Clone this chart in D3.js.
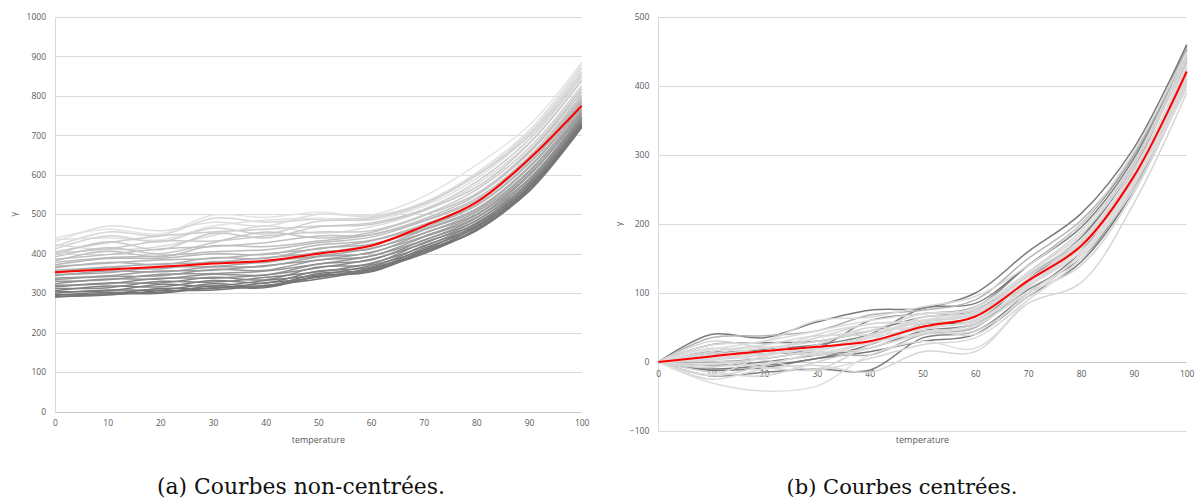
<!DOCTYPE html>
<html><head><meta charset="utf-8">
<script src="https://cdn.jsdelivr.net/npm/d3@7"></script>
<style>body{margin:0;background:#fff}svg{display:block}</style>
</head><body>
<svg id="c" width="1195" height="502"></svg>
<script>
// ---------- data ----------
const temps = [0,10,20,30,40,50,60,70,80,90,100];
const xTickLabels = [0,10,20,30,40,50,60,70,80,90,100];
const leftYTicks = [0,100,200,300,400,500,600,700,800,900,1000];
const rightYTicks = [-100,0,100,200,300,400,500];

// (a) non-centred curves, values at each temperature
const leftCurves = [
  [440,462,450,498,492,505,498,545,625,725,885],
  [430,470,458,480,470,500,495,530,605,712,878],
  [418,455,446,490,480,488,492,528,600,705,870],
  [436,440,435,470,485,490,485,520,590,700,862],
  [412,445,430,465,450,482,488,525,598,698,858],
  [405,428,445,455,462,470,478,512,582,690,850],
  [424,410,418,446,470,452,468,508,575,682,842],
  [398,430,410,452,440,468,474,510,568,678,838],
  [402,412,432,432,445,455,458,498,562,668,826],
  [392,415,400,428,455,440,454,496,552,660,818],
  [386,398,412,418,428,445,448,488,548,655,810],
  [382,406,392,420,418,432,448,484,540,646,802],
  [378,390,394,405,410,428,442,482,535,640,796],
  [372,388,388,400,398,422,434,474,530,636,790],
  [368,376,384,388,400,412,432,470,524,630,786],
  [364,378,372,390,388,414,424,466,522,628,782],
  [358,366,374,378,390,402,422,462,514,620,776],
  [354,364,362,380,378,404,412,460,510,618,772],
  [348,352,366,368,380,394,414,452,506,610,766],
  [344,356,354,366,368,392,402,452,500,606,762],
  [338,344,356,358,370,384,404,444,498,600,758],
  [334,342,344,360,358,384,394,442,492,598,754],
  [330,334,348,350,356,374,394,434,490,590,750],
  [324,336,336,348,346,374,384,434,484,588,746],
  [320,324,338,338,346,364,386,426,484,580,744],
  [316,326,326,340,334,366,374,428,476,582,740],
  [312,314,330,328,340,354,376,418,478,574,738],
  [306,318,316,332,326,356,366,420,470,576,734],
  [304,306,322,318,332,346,370,410,474,568,732],
  [300,308,308,324,318,350,360,414,466,570,728],
  [296,298,312,312,326,340,364,404,468,562,726],
  [294,302,302,318,316,344,356,408,460,566,722],
  [291,295,306,308,320,336,360,400,462,558,720],
  [290,298,300,314,314,342,354,404,458,560,724]
];
const leftMean = [353,360,367,375,382,400,420,470,530,640,775];

// (b) centred curves, and the starting level of the original curve (drives shade)
const rightCurves = [
  [0,40,35,58,75,78,100,160,215,310,460],
  [0,35,38,45,68,75,90,150,205,300,455],
  [0,25,30,60,65,80,95,140,200,305,450],
  [0,-30,-42,-35,10,30,20,90,150,260,395],
  [0,-25,-10,-5,-15,15,15,85,115,230,390],
  [0,-20,-15,-10,-12,35,45,100,160,280,445],
  [0,-10,-5,5,25,55,60,120,180,290,450],
  [0,10,20,30,45,70,75,125,175,275,430],
  [0,15,25,38,40,60,70,115,165,265,420],
  [0,5,12,20,35,50,60,110,160,260,415],
  [0,-5,0,10,20,45,55,105,150,255,410],
  [0,20,15,40,55,60,80,130,185,285,440],
  [0,-15,-20,0,20,40,45,95,155,250,400],
  [0,0,5,15,10,40,50,115,170,270,435],
  [0,30,20,10,30,65,70,120,175,280,425],
  [0,-8,8,25,50,45,55,100,140,245,405],
  [0,12,18,25,40,78,85,140,195,295,458],
  [0,8,3,-10,25,55,65,130,190,290,445],
  [0,-18,10,35,45,50,40,100,155,258,410],
  [0,25,28,30,45,65,75,125,180,285,440],
  [0,3,10,20,30,48,62,118,168,268,420],
  [0,-3,5,18,38,58,68,112,160,262,418],
  [0,-12,-8,5,15,30,40,95,145,250,420],
  [0,18,30,45,60,70,78,128,178,275,432],
  [0,-6,-2,12,28,42,52,108,170,272,428],
  [0,5,15,35,55,60,70,130,185,290,448],
  [0,12,22,15,20,52,58,110,165,265,415],
  [0,-20,-5,15,35,65,72,120,172,270,425],
  [0,15,12,20,60,70,80,140,200,300,452],
  [0,2,-8,-12,5,25,35,90,150,255,405]
];
const rightLevels = [300,365,425,430,420,305,300,415,420,425,310,425,415,360,420,415,302,418,425,305,422,418,298,428,420,412,425,418,308,420];
const rightMean = [0,8,16,22,30,51,66,118,168,269,421];

const captions = ["(a) Courbes non-centrées.", "(b) Courbes centrées."];
const xTitle = "temperature";
const yTitle = "γ";

// ---------- drawing ----------
const svg = d3.select("#c");
const shade = d3.scaleLinear().domain([295, 360, 440]).range(["#767676", "#b0b0b0", "#e4e4e4"]).clamp(true);
const tickFont = "'Open Sans', 'Noto Sans', sans-serif";
const axisColor = "#595959";
const gridColor = "#d9d9d9";

function panel(cfg) {
  const g = svg.append("g");
  const x = d3.scaleLinear().domain([0,100]).range([cfg.x0, cfg.x1]);
  const y = d3.scaleLinear().domain(cfg.yDomain).range([cfg.yb, cfg.yt]);

  g.append("g").selectAll("line").data(cfg.yTicks).join("line")
    .attr("x1", cfg.x0).attr("x2", cfg.x1)
    .attr("y1", d => Math.round(y(d)) + 0.5).attr("y2", d => Math.round(y(d)) + 0.5)
    .attr("stroke", d => d === 0 ? "#c8c8c8" : gridColor).attr("stroke-width", 1);
  g.append("line").attr("x1", Math.round(cfg.x0)+0.5).attr("x2", Math.round(cfg.x0)+0.5)
    .attr("y1", y(cfg.yDomain[0])).attr("y2", y(cfg.yDomain[1]))
    .attr("stroke", gridColor);

  const ya = d3.axisLeft(y).tickValues(cfg.yTicks).tickFormat(d3.format("d")).tickSize(0).tickPadding(0);
  const yg = g.append("g").attr("transform", `translate(${cfg.x0 - 9},0)`).call(ya);
  yg.select(".domain").remove();
  yg.selectAll("text").attr("fill", axisColor).style("font-family", tickFont).style("font-size", "8.5px");

  const xa = d3.axisBottom(x).tickValues(temps).tickFormat((d,i) => xTickLabels[i]).tickSize(0).tickPadding(0);
  const xg = g.append("g").attr("transform", `translate(0,${cfg.xLabelY})`).call(xa);
  xg.select(".domain").remove();
  xg.selectAll("text").attr("fill", axisColor).style("font-family", tickFont).style("font-size", "8.5px");

  const line = d3.line().x((d,i) => x(temps[i])).y(d => y(d)).curve(d3.curveCatmullRom.alpha(0.5));
  const items = cfg.curves.map((c, i) => ({c, lev: cfg.levels[i]}));
  if (cfg.darkFirst) items.sort((a, b) => a.lev - b.lev);
  g.append("g").selectAll("path").data(items).join("path")
    .attr("d", d => line(d.c)).attr("fill", "none")
    .attr("stroke", d => shade(d.lev))
    .attr("stroke-width", cfg.sw);
  g.append("path").datum(cfg.mean).attr("d", line).attr("fill", "none")
    .attr("stroke", "#ff0000").attr("stroke-width", 2);

  g.append("text").attr("x", (cfg.x0 + cfg.x1)/2).attr("y", 443)
    .attr("text-anchor", "middle").attr("fill", axisColor)
    .style("font-family", tickFont).style("font-size", "9px").text(xTitle);
  g.append("text").attr("transform", `translate(${cfg.yTitleX},${(cfg.yt+cfg.yb)/2}) rotate(-90)`)
    .attr("text-anchor", "middle").attr("fill", axisColor)
    .style("font-family", tickFont).style("font-size", "9px").text(yTitle);

  const cap = svg.append("text").attr("x", cfg.capX).attr("y", 494)
    .attr("text-anchor", "middle").attr("fill", "#111")
    .style("font-family", "'DejaVu Serif', serif").style("font-size", "21px").text(cfg.caption);
  const w = cap.node().getComputedTextLength();
  cap.style("font-size", (21 * cfg.capW / w).toFixed(2) + "px");
}

panel({
  x0: 55, x1: 581.7, yDomain: [0,1000], yt: 17, yb: 411.5, yTicks: leftYTicks,
  xLabelY: 420, curves: leftCurves, levels: leftCurves.map(c => c[0]), mean: leftMean,
  yTitleX: 17, caption: captions[0], capX: 301, capW: 288, sw: 1.5, darkFirst: false
});
panel({
  x0: 658.3, x1: 1186.7, yDomain: [-100,500], yt: 17, yb: 431, yTicks: rightYTicks,
  xLabelY: 371, curves: rightCurves, levels: rightLevels, mean: rightMean,
  yTitleX: 622, caption: captions[1], capX: 902, capW: 231, sw: 1.5, darkFirst: true
});
</script>
</body></html>
